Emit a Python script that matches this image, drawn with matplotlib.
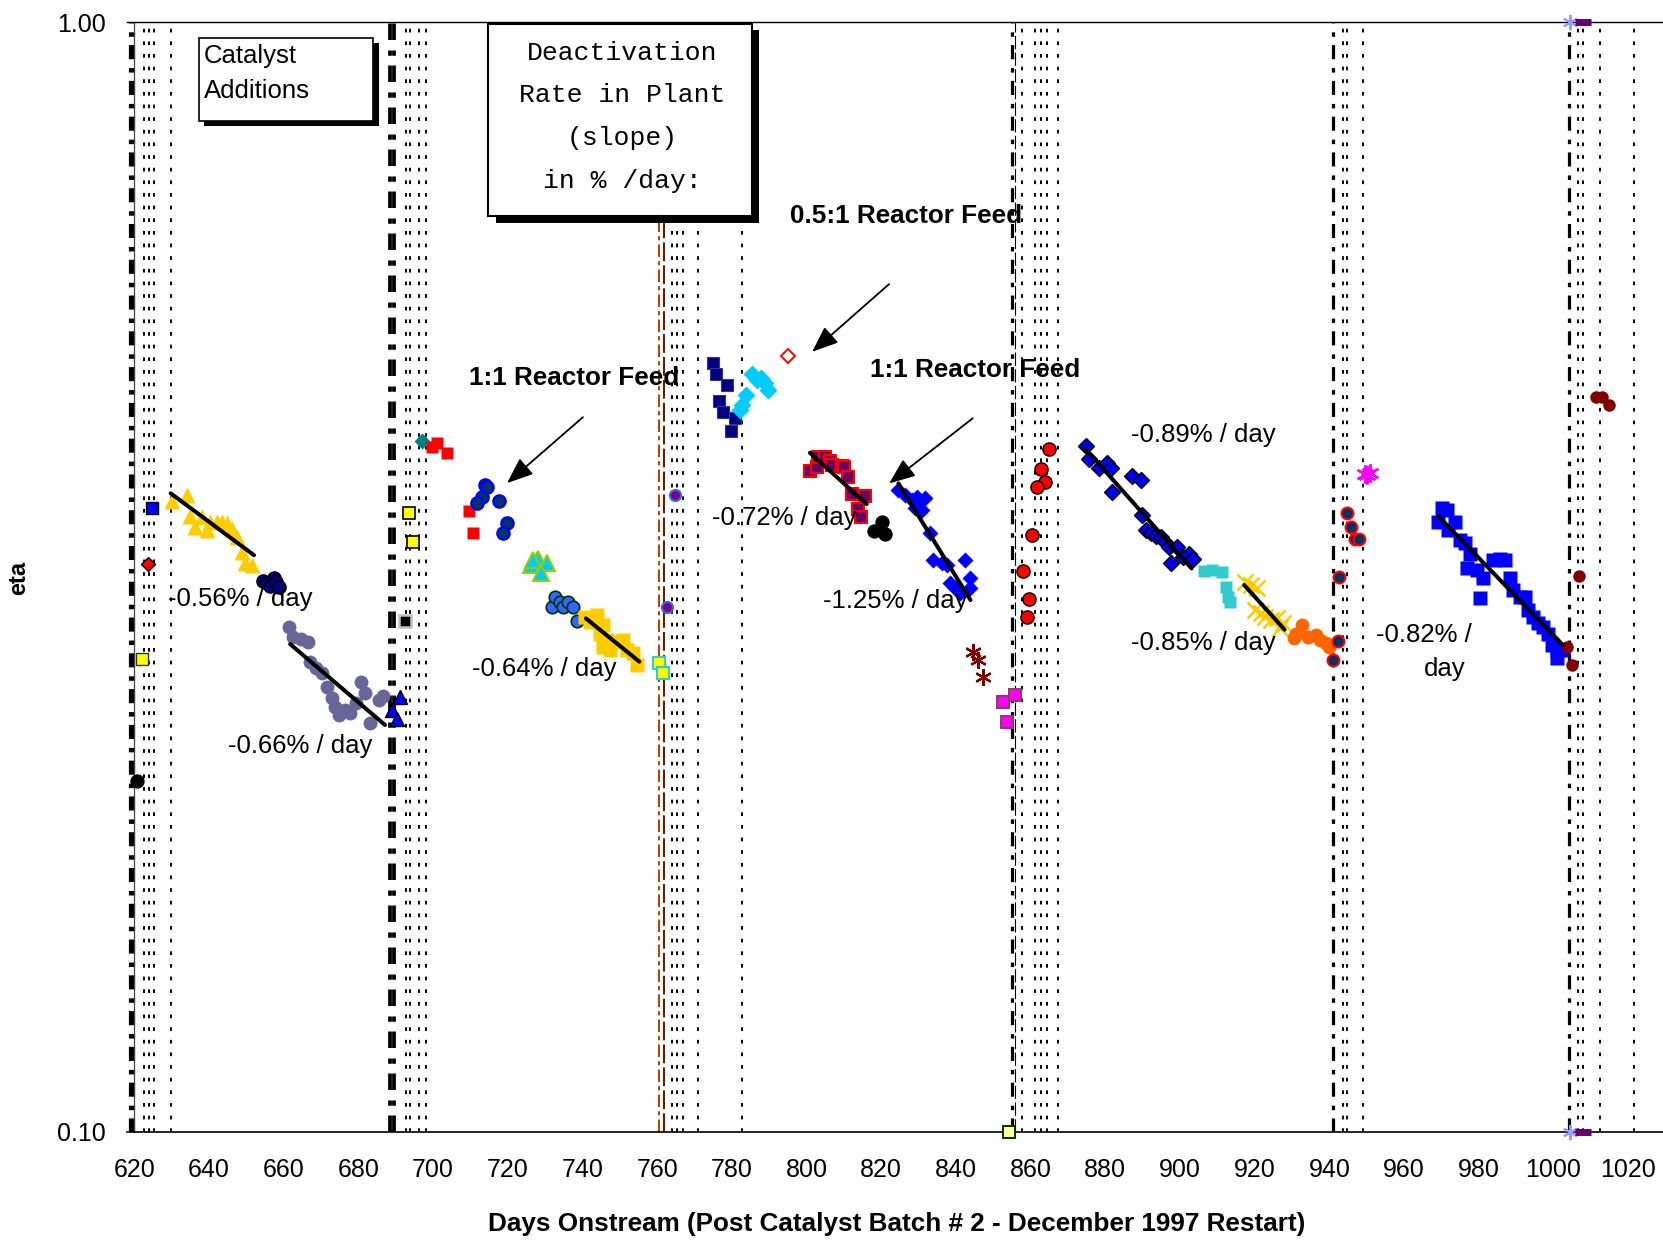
import matplotlib
matplotlib.use('Agg')
import matplotlib.pyplot as plt
from matplotlib.patches import Rectangle
from matplotlib.ticker import NullLocator

plt.rcParams['font.family'] = ['Liberation Sans', 'DejaVu Sans']

# ------------------------------------------------------------------ data
# event lines (days onstream)
thick_event_days = [618.7, 619.6, 688.5, 689.6, 855.0, 941.0, 1004.2]
thin_event_days = [855.7]
brown_event_days = [760.5, 761.7]
dotted_event_days = [622.6, 623.9, 625.1, 629.7,
                     692.6, 693.9, 696.2, 698.2,
                     763.9, 765.4, 766.8, 771.0, 782.6,
                     857.6, 861.3, 862.8, 864.5, 867.3,
                     943.7, 944.6, 948.9,
                     1006.7, 1008.0, 1012.5, 1021.6]

# measured eta series
edge_blue_sq_day, edge_blue_sq_eta = [624.6], [0.3651]
edge_red_dia_day, edge_red_dia_eta = [623.7], [0.3246]
edge_yel_sq_day, edge_yel_sq_eta = [621.9], [0.2667]
edge_blk_c_day, edge_blk_c_eta = [620.6], [0.2072]

gold_tri_day = [630.0, 634.0, 634.9, 636.2, 638.0, 639.3, 640.2, 642.0, 643.4,
                644.7, 646.0, 647.4, 648.7, 649.6, 651.4]
gold_tri_eta = [0.3702, 0.3749, 0.3588, 0.3509, 0.3583, 0.3485, 0.3546, 0.3546,
                0.3546, 0.3534, 0.3497, 0.3437, 0.3334, 0.3256, 0.3245]

navy_c_day = [654.3, 655.4, 656.3, 657.4, 657.8, 658.8]
navy_c_eta = [0.3136, 0.3121, 0.3106, 0.3153, 0.3132, 0.3100]

slate_c_day = [661.3, 662.5, 664.6, 666.6, 667.1, 668.7, 670.2, 671.6, 672.8, 673.8,
               674.8, 676.3, 677.6, 679.2, 680.8, 681.8, 683.0, 685.6, 686.6]
slate_c_eta = [0.2852, 0.2790, 0.2781, 0.2764, 0.2653, 0.2617, 0.2590, 0.2519, 0.2462,
               0.2416, 0.2375, 0.2399, 0.2383, 0.2433, 0.2545, 0.2486, 0.2337, 0.2450,
               0.2470]

blue_tri_day = [691.2, 689.0, 690.2]
blue_tri_eta = [0.2467, 0.2397, 0.2353]

teal_dia_day, teal_dia_eta = [696.9], [0.4195]
red_sq_a_day = [699.6, 700.9, 703.8]
red_sq_a_eta = [0.4143, 0.4178, 0.4090]
yel_sq_b_day = [693.6, 694.5]
yel_sq_b_eta = [0.3608, 0.3402]
blk_sq_day, blk_sq_eta = [692.4], [0.2889]
red_sq_b_day = [709.7, 710.7]
red_sq_b_eta = [0.3625, 0.3462]

dkblue_c_day = [713.9, 714.3, 713.0, 711.8, 717.7, 719.8, 718.8]
dkblue_c_eta = [0.3826, 0.3808, 0.3731, 0.3685, 0.3703, 0.3534, 0.3462]

cyan_tri_day = [726.1, 728.1, 726.8, 730.4, 729.0]
cyan_tri_eta = [0.3241, 0.3286, 0.3279, 0.3253, 0.3190]

rblue_c_day = [731.7, 732.6, 734.0, 734.8, 736.2, 737.5, 738.4]
rblue_c_eta = [0.2972, 0.3035, 0.3003, 0.2972, 0.3003, 0.2972, 0.2886]

gold_sq_day = [740.6, 743.8, 742.0, 745.5, 744.7, 746.5, 745.5, 747.3, 749.6, 750.9,
               751.8, 753.6, 754.5]
gold_sq_eta = [0.2912, 0.2922, 0.2881, 0.2861, 0.2812, 0.2774, 0.2736, 0.2718, 0.2764,
               0.2774, 0.2718, 0.2700, 0.2634]

yel_sq_c_day = [760.5, 761.6]
yel_sq_c_eta = [0.2648, 0.2589]
purple_c_day = [764.8, 762.5]
purple_c_eta = [0.3749, 0.2972]

navy_sq_day = [775.0, 775.7, 778.8, 776.6, 777.7, 780.8, 779.7]
navy_sq_eta = [0.4926, 0.4815, 0.4711, 0.4552, 0.4452, 0.4400, 0.4283]

cyan_dia_day = [785.3, 786.6, 787.7, 788.9, 789.7, 783.8, 782.6, 782.2]
cyan_dia_eta = [0.4818, 0.4760, 0.4783, 0.4727, 0.4662, 0.4614, 0.4521, 0.4475]

open_dia_day, open_dia_eta = [795.1], [0.5001]

plum_sq_day = [800.9, 802.7, 803.1, 804.9, 806.3, 806.7, 809.4, 810.0, 811.2, 812.1,
               815.7, 813.8, 814.7]
plum_sq_eta = [0.3941, 0.3970, 0.4053, 0.4053, 0.4025, 0.3990, 0.3983, 0.3977, 0.3894,
               0.3759, 0.3745, 0.3640, 0.3583]

black_c_day = [820.1, 818.0, 821.1]
black_c_eta = [0.3541, 0.3480, 0.3455]

blue_dia_day = [824.6, 826.4, 828.1, 829.5, 830.4, 831.7, 829.0, 830.8, 833.0, 833.9,
                836.2, 837.5, 842.4, 838.4, 839.8, 841.1, 843.8, 843.8]
blue_dia_eta = [0.3786, 0.3747, 0.3710, 0.3735, 0.3697, 0.3723, 0.3649, 0.3636, 0.3462,
                0.3275, 0.3253, 0.3241, 0.3275, 0.3121, 0.3089, 0.3057, 0.3154, 0.3089]

dkred_star_day = [844.6, 846.0, 847.2]
dkred_star_eta = [0.2708, 0.2662, 0.2571]

magenta_sq_day = [852.7, 855.8, 853.7]
magenta_sq_eta = [0.2441, 0.2476, 0.2342]

pale_sq_day, pale_sq_eta = [854.1], [0.10]

red_c_day = [865.0, 862.7, 863.8, 861.8, 860.5, 857.9, 859.6, 859.1]
red_c_eta = [0.4123, 0.3954, 0.3849, 0.3812, 0.3450, 0.3201, 0.3020, 0.2912]

blue_dia_b_day = [874.8, 875.6, 878.3, 880.4, 881.4, 887.2, 889.5, 881.7, 889.8, 890.8,
                  892.2, 893.5, 895.0, 896.1, 897.1, 899.2, 897.6, 900.8, 902.4, 903.4]
blue_dia_b_eta = [0.4151, 0.4038, 0.3961, 0.4007, 0.3961, 0.3901, 0.3866, 0.3770, 0.3595,
                  0.3485, 0.3466, 0.3443, 0.3438, 0.3402, 0.3366, 0.3366, 0.3257, 0.3298,
                  0.3320, 0.3286]

turq_sq_day = [906.5, 908.6, 911.2, 912.3, 912.8, 913.5]
turq_sq_eta = [0.3204, 0.3209, 0.3198, 0.3100, 0.3035, 0.3003]

gold_x_day = [917.5, 919.1, 920.7, 920.1, 921.7, 922.8, 924.3, 925.9, 927.5, 926.9]
gold_x_eta = [0.3131, 0.3110, 0.3089, 0.2952, 0.2932, 0.2912, 0.2892, 0.2902, 0.2873,
              0.2845]

orange_c_day = [932.7, 931.1, 934.3, 936.4, 937.4, 939.0, 940.0, 930.6]
orange_c_eta = [0.2861, 0.2812, 0.2792, 0.2802, 0.2774, 0.2755, 0.2736, 0.2789]

navy_rc_day = [944.8, 945.8, 946.9, 947.9, 942.6, 942.2, 941.1]
navy_rc_eta = [0.3613, 0.3505, 0.3419, 0.3419, 0.3162, 0.2770, 0.2664]

mag_star_day = [949.5, 950.9, 950.2]
mag_star_eta = [0.3920, 0.3925, 0.3907]

blue_sq_day = [970.1, 971.4, 969.2, 973.7, 971.8, 975.0, 976.3, 977.6, 976.8, 979.5,
               981.2, 983.9, 985.7, 987.0, 988.4, 989.3, 991.1, 992.4, 993.3, 994.6,
               996.0, 997.3, 998.6, 999.5, 1000.9, 1000.9, 1002.2, 980.3]
blue_sq_eta = [0.3647, 0.3636, 0.3546, 0.3546, 0.3485, 0.3414, 0.3390, 0.3320, 0.3219,
               0.3209, 0.3153, 0.3275, 0.3280, 0.3275, 0.3153, 0.3079, 0.3035, 0.3035,
               0.2952, 0.2912, 0.2873, 0.2853, 0.2812, 0.2745, 0.2718, 0.2671, 0.2718,
               0.3025]

maroon_c_day = [1003.7, 1004.9, 1006.9, 1011.4, 1012.9, 1015.0]
maroon_c_eta = [0.2736, 0.2634, 0.3170, 0.4598, 0.4598, 0.4516]

lb_star_day = [1004.5, 1004.5]
lb_star_eta = [1.0, 0.10]
purple_dash_day = [1007.8, 1007.8]
purple_dash_eta = [1.0, 0.10]

# fitted deactivation trend lines (end points)
trend_days = [[629.7, 652.0], [661.7, 687.1], [740.9, 755.2], [800.9, 816.1],
              [824.6, 843.9], [874.6, 903.1], [917.2, 928.0], [969.2, 1002.6]]
trend_etas = [[0.3762, 0.3309], [0.2751, 0.2326], [0.2902, 0.2653], [0.4092, 0.3679],
              [0.3840, 0.3014], [0.4129, 0.3219], [0.3110, 0.2835], [0.3588, 0.2745]]

slope_labels = ['-0.56% / day', '-0.66% / day', '-0.64% / day', '-0.72% / day',
                '-1.25% / day', '-0.89% / day', '-0.85% / day', '-0.82% /', 'day']
slope_label_day = [628.9, 645.0, 710.4, 774.8, 804.4, 886.8, 886.8, 952.6, 965.4]
slope_label_eta = [0.302, 0.2228, 0.2611, 0.3577, 0.3007, 0.4247, 0.2759, 0.2802, 0.2611]

feed_labels = ['1:1 Reactor Feed', '0.5:1 Reactor Feed', '1:1 Reactor Feed']
feed_label_day = [709.6, 795.5, 816.9]
feed_label_eta = [0.4775, 0.6683, 0.4859]

arrow_tail_day = [740.1, 822.1, 844.5]
arrow_tail_eta = [0.4406, 0.5808, 0.4396]
arrow_head_day = [719.8, 801.5, 822.1]
arrow_head_eta = [0.3843, 0.5047, 0.3840]

x_ticks = list(range(620, 1021, 20))
y_ticks = [0.10, 1.00]
y_tick_labels = ['0.10', '1.00']

# ------------------------------------------------------------------ figure
W, H = 1663, 1241
fig = plt.figure(figsize=(W / 100, H / 100), dpi=100)
ax = fig.add_axes([127 / W, 1 - 1131.7 / H, 1538.4 / W, 1109.4 / H])
ax.set_yscale('log')
ax.set_xlim(618, 1030)
ax.set_ylim(0.1, 1.0)

# event lines
for d in thick_event_days:
    lw = 2.7 if 687 < d < 691 else 2.3
    ax.axvline(d, color='black', lw=lw, linestyle=(0, (4.4, 2.6, 1.4, 2.8)), zorder=1)
for d in thin_event_days:
    ax.axvline(d, color='black', lw=0.8, linestyle=(0, (12, 3)), zorder=1)
ax.axvline(brown_event_days[0], color='#b34700', lw=1.5, linestyle=(0, (6, 2, 2, 2)), zorder=1)
ax.axvline(brown_event_days[1], color='#5c2200', lw=1.5, linestyle=(0, (9, 2)), zorder=1)
for d in dotted_event_days:
    ax.axvline(d, color='black', lw=1.4, linestyle=(0, (1.9, 4.6)), zorder=1)


def pts(x, y, marker, ms, fc, ec='none', mew=0.8, clip=True, z=3):
    ax.plot(x, y, linestyle='none', marker=marker, ms=ms, mfc=fc, mec=ec,
            mew=mew, clip_on=clip, zorder=z)


star = (6, 2, 0)
pts(edge_blue_sq_day, edge_blue_sq_eta, 's', 8.5, '#0000ff', 'black', 1.0)
pts(edge_red_dia_day, edge_red_dia_eta, 'D', 7.5, '#ff0000', 'black', 1.0)
pts(edge_yel_sq_day, edge_yel_sq_eta, 's', 8.5, '#ffff00', '#333333', 1.0)
pts(edge_blk_c_day, edge_blk_c_eta, 'o', 9.5, 'black', 'black')
pts(gold_tri_day, gold_tri_eta, '^', 12, '#ffcc00')
pts(navy_c_day, navy_c_eta, 'o', 9.5, '#000080', 'black', 1.0)
pts(slate_c_day, slate_c_eta, 'o', 10, '#666699')
pts(blue_tri_day, blue_tri_eta, '^', 10, '#0000ff', 'black', 1.0)
pts(teal_dia_day, teal_dia_eta, 'D', 8, '#008080')
pts(red_sq_a_day, red_sq_a_eta, 's', 9, '#ff0000')
pts(yel_sq_b_day, yel_sq_b_eta, 's', 8.5, '#ffff00', 'black', 1.2)
pts(blk_sq_day, blk_sq_eta, 's', 8, 'black', '#c0c0c0', 1.8)
pts(red_sq_b_day, red_sq_b_eta, 's', 9, '#ff0000')
pts(dkblue_c_day, dkblue_c_eta, 'o', 9, '#003366', '#0000ff', 1.5)
pts(cyan_tri_day, cyan_tri_eta, '^', 11, '#00ccff', '#99cc00', 1.5)
pts(rblue_c_day, rblue_c_eta, 'o', 9, '#3366ff', '#003300', 1.2)
pts(gold_sq_day, gold_sq_eta, 's', 10.5, '#ffcc00')
pts(yel_sq_c_day, yel_sq_c_eta, 's', 8.5, '#ffff00', '#33cccc', 1.5)
pts(purple_c_day, purple_c_eta, 'o', 8, '#800080', '#3366ff', 1.5)
pts(navy_sq_day, navy_sq_eta, 's', 9, '#000080', '#333399')
pts(cyan_dia_day, cyan_dia_eta, 'D', 9, '#00ccff')
pts(open_dia_day, open_dia_eta, 'D', 7.5, 'none', '#ff0000', 1.4)
pts(plum_sq_day, plum_sq_eta, 's', 8.5, '#660066', '#ff0000', 1.5)
pts(black_c_day, black_c_eta, 'o', 9.5, 'black', 'black')
pts(blue_dia_day, blue_dia_eta, 'D', 8.5, '#0000ff')
pts(dkred_star_day, dkred_star_eta, star, 12, '#800000', '#800000', 1.6)
pts(magenta_sq_day, magenta_sq_eta, 's', 8.5, '#ff00ff', '#993366', 1.4)
pts(pale_sq_day, pale_sq_eta, 's', 8.5, '#ffff99', '#003300', 1.4, clip=False)
pts(red_c_day, red_c_eta, 'o', 9.5, '#ff0000', 'black', 1.0)
pts(blue_dia_b_day, blue_dia_b_eta, 'D', 8, '#0000ee', 'black', 1.0)
pts(turq_sq_day, turq_sq_eta, 's', 9, '#33cccc')
pts(gold_x_day, gold_x_eta, 'x', 11, '#ffcc00', '#ffcc00', 1.8)
pts(orange_c_day, orange_c_eta, 'o', 10, '#ff6600')
pts(navy_rc_day, navy_rc_eta, 'o', 8.5, '#003366', '#ff0000', 1.5)
pts(mag_star_day, mag_star_eta, star, 13, '#ff00ff', '#ff00ff', 1.6)
pts(blue_sq_day, blue_sq_eta, 's', 9.5, '#0000ff')
pts(maroon_c_day, maroon_c_eta, 'o', 9, '#800000')
pts(lb_star_day, lb_star_eta, star, 11, '#9999ff', '#9999ff', 1.4, clip=False)
pts(purple_dash_day, purple_dash_eta, '_', 11, '#660066', '#660066', 5, clip=False)

for td, te in zip(trend_days, trend_etas):
    ax.plot(td, te, color='black', lw=2.9, solid_capstyle='round', zorder=4)

for s, d, e in zip(slope_labels, slope_label_day, slope_label_eta):
    ax.text(d, e, s, fontsize=18.5, ha='left', va='center', zorder=5)

for s, d, e in zip(feed_labels, feed_label_day, feed_label_eta):
    ax.text(d, e, s, fontsize=18.8, fontweight='bold', ha='left', va='center', zorder=5)

for td, te, hd, he in zip(arrow_tail_day, arrow_tail_eta, arrow_head_day, arrow_head_eta):
    ax.annotate('', xy=(hd, he), xytext=(td, te),
                arrowprops=dict(arrowstyle='-|>,head_length=0.8,head_width=0.32',
                                mutation_scale=20, color='black', lw=1.3,
                                shrinkA=0, shrinkB=0), zorder=5)

# axes styling
ax.spines['right'].set_visible(False)
ax.spines['left'].set_position(('data', 620))
ax.spines['left'].set_linewidth(0.9)
ax.spines['left'].set_color('#444444')
ax.spines['top'].set_linewidth(1.0)
ax.spines['bottom'].set_linewidth(1.2)
ax.set_xticks(x_ticks)
ax.set_xticklabels([str(t) for t in x_ticks])
ax.set_yticks(y_ticks)
ax.set_yticklabels(y_tick_labels)
ax.yaxis.set_minor_locator(NullLocator())
ax.tick_params(axis='x', length=0, pad=19, labelsize=18)
ax.tick_params(axis='y', length=0, pad=20.5, labelsize=18)

fig.text(897 / W, 1 - 1224 / H,
         'Days Onstream (Post Catalyst Batch # 2 - December 1997 Restart)',
         fontsize=18.8, fontweight='bold', ha='center', va='center')
fig.text(19 / W, 1 - 578 / H, 'eta', fontsize=17, fontweight='bold',
         rotation=90, ha='center', va='center')


def fbox(x0, y0, x1, y1, **kw):
    fig.patches.append(Rectangle((x0 / W, 1 - y1 / H), (x1 - x0) / W, (y1 - y0) / H,
                                 transform=fig.transFigure, **kw))


# Catalyst Additions box
fbox(204, 43, 378.6, 125.7, facecolor='black', edgecolor='none', zorder=6)
fbox(198.7, 37.7, 372.8, 120.7, facecolor='white', edgecolor='black', lw=1.2, zorder=7)
fig.text(204 / W, 1 - 63.5 / H, 'Catalyst', fontsize=18.5, ha='left', va='baseline', zorder=8)
fig.text(204 / W, 1 - 97.5 / H, 'Additions', fontsize=18.5, ha='left', va='baseline', zorder=8)

# Deactivation rate box
fbox(495.5, 30, 759, 222.7, facecolor='black', edgecolor='none', zorder=6)
fbox(488, 24.3, 751.7, 216, facecolor='white', edgecolor='black', lw=1.5, zorder=7)
for line, yy in zip(['Deactivation', 'Rate in Plant', '(slope)', 'in % /day:'],
                    [53, 95.5, 138, 181]):
    fig.text(622 / W, 1 - yy / H, line, fontsize=19, family='Liberation Mono',
             ha='center', va='center', zorder=8)

fig.savefig('out.png', dpi=100)
